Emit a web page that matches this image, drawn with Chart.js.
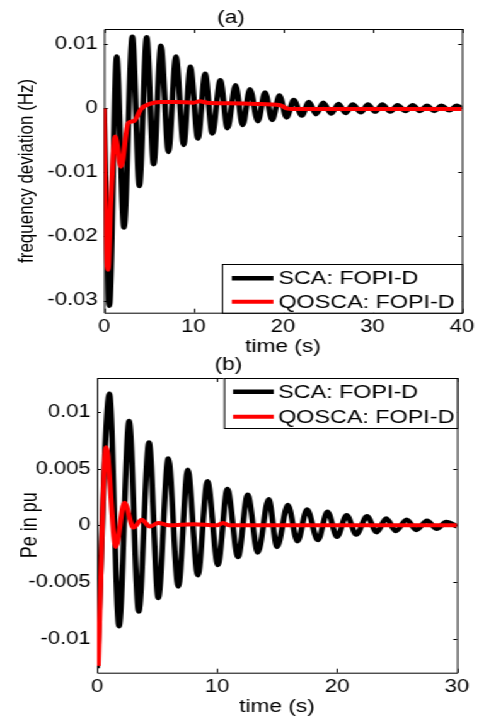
<!DOCTYPE html>
<html>
<head>
<meta charset="utf-8">
<title>SCA vs QOSCA FOPI-D</title>
<script src="https://cdn.jsdelivr.net/npm/chart.js@4.4.0/dist/chart.umd.min.js"></script>
<style>
  html, body { margin: 0; padding: 0; background: #fff; overflow: hidden; }
  /* the source figure is stretched sideways, so the charts are drawn narrow and widened */
  #wrap { position: absolute; left: 0; top: 0; width: 380px; height: 717px;
          transform: scaleX(1.2605); transform-origin: 0 0; }
  #wrap canvas { position: absolute; left: 0; }
</style>
</head>
<body>
<div id="wrap">
  <canvas id="chartA" width="380" height="358" style="top:0"></canvas>
  <canvas id="chartB" width="380" height="361" style="top:356px"></canvas>
</div>
<script>
// legend labels
const seriesLabels = ['SCA: FOPI-D', 'QOSCA: FOPI-D'];

// (a) frequency deviation
const timeTicksA = [0, 10, 20, 30, 40];
const freqTicksA = [-0.03, -0.02, -0.01, 0, 0.01];

const scaTimeA = [0, 0.6, 1.42, 2.23, 3.17, 3.95, 4.77, 5.55, 6.37, 7.2, 8.04, 8.9, 9.65, 10.5,
  11.3, 12.1, 13.0, 13.8, 14.7, 15.5, 16.3, 17.2, 18.0, 18.8, 19.6, 20.4, 21.2, 22.1, 22.9,
  23.7, 24.5, 25.4, 26.2, 27.0, 27.8, 28.7, 29.5, 30.3, 31.1, 32.0, 32.8, 33.7, 34.5, 35.3,
  36.1, 36.9, 37.7, 38.6, 39.4, 40];
const scaFreqA = [0, -0.0308, 0.0081, -0.0186, 0.0112, -0.0121, 0.0111, -0.0087, 0.0098, -0.0068,
  0.0081, -0.0057, 0.0065, -0.0047, 0.0054, -0.0039, 0.0044, -0.0031, 0.0036, -0.0026, 0.0030,
  -0.0020, 0.0025, -0.0018, 0.0020, -0.0014, 0.0013, -0.0011, 0.0010, -0.0009, 0.0009, -0.0008,
  0.0007, -0.0007, 0.0006, -0.0006, 0.0006, -0.0005, 0.0006, -0.0005, 0.0005, -0.0004, 0.0005,
  -0.0004, 0.0004, -0.0004, 0.0004, -0.0003, 0.0004, 0];

const qoscaTimeA = [0, 0.1, 0.25, 0.45, 0.75, 1.25, 1.9, 2.7, 3.3, 4.2, 5.1, 6.3, 8, 10, 10.7,
  11.5, 14, 17, 19.7, 20.4, 21, 25, 30, 40];
const qoscaFreqA = [0, -0.012, -0.022, -0.0252, -0.015, -0.0044, -0.0091, -0.0023, -0.002, 0,
  0.0007, 0.001, 0.001, 0.0009, 0.0011, 0.0009, 0.0008, 0.0007, 0.0005, 0, -0.0001, -0.0001,
  -0.0001, -0.0001];

// (b) electrical power
const timeTicksB = [0, 10, 20, 30];
const peTicksB = [-0.01, -0.005, 0, 0.005, 0.01];

const scaTimeB = [0, 1.03, 1.83, 2.67, 3.47, 4.33, 5.1, 5.94, 6.77, 7.56, 8.4, 9.2, 10.07, 10.86,
  11.75, 12.55, 13.4, 14.3, 15.0, 15.9, 16.7, 17.5, 18.4, 19.2, 20.0, 20.8, 21.6, 22.5, 23.3,
  24.1, 24.9, 25.8, 26.6, 27.5, 28.3, 29.1, 30];
const scaPeB = [-0.0126, 0.0116, -0.0089, 0.0092, -0.0076, 0.0073, -0.0064, 0.0059, -0.0054,
  0.0049, -0.0044, 0.0039, -0.0035, 0.0032, -0.0028, 0.0027, -0.0024, 0.0023, -0.0019, 0.0018,
  -0.0014, 0.0014, -0.0013, 0.0012, -0.0010, 0.0009, -0.0008, 0.0008, -0.0006, 0.0006, -0.0005,
  0.0005, -0.0004, 0.0004, -0.0003, 0.0003, -0.0001];

const qoscaTimeB = [0.1, 0.75, 1.56, 2.28, 3.03, 3.72, 4.4, 5.1, 6, 8, 10, 10.5, 11, 15, 20, 25, 30];
const qoscaPeB = [-0.0124, 0.0069, -0.0019, 0.002, -0.0002, 0.0005, -0.0001, 0.0002, 0, 0.0001,
  0, 0.0002, 0, 0, 0, 0, 0];

const FONT = "'Liberation Sans', Arial, Helvetica, sans-serif";

function points(xs, ys) {
  return xs.map((x, i) => ({ x: x, y: ys[i] }));
}

// matlab style box with inward ticks on all four sides
const matlabBox = {
  id: 'matlabBox',
  beforeDatasetsDraw(chart) {
    const { ctx, chartArea: a, scales: { x, y } } = chart;
    ctx.save();
    ctx.strokeStyle = '#000';
    ctx.lineWidth = 1;
    ctx.beginPath();
    ctx.rect(a.left + 0.5, a.top + 0.5, a.right - a.left, a.bottom - a.top);
    x.ticks.forEach(t => {
      const px = Math.round(x.getPixelForValue(t.value)) + 0.5;
      ctx.moveTo(px, a.bottom); ctx.lineTo(px, a.bottom - 4);
      ctx.moveTo(px, a.top); ctx.lineTo(px, a.top + 4);
    });
    y.ticks.forEach(t => {
      const py = Math.round(y.getPixelForValue(t.value)) + 0.5;
      ctx.moveTo(a.left, py); ctx.lineTo(a.left + 3, py);
      ctx.moveTo(a.right, py); ctx.lineTo(a.right - 3, py);
    });
    ctx.stroke();
    ctx.restore();
  }
};

// boxed legend in a corner of the plot
const cornerLegend = {
  id: 'cornerLegend',
  afterDatasetsDraw(chart, args, o) {
    const { ctx, chartArea: a } = chart;
    const x0 = a.right - o.width;
    const y0 = o.atTop ? a.top : a.bottom - o.height;
    ctx.save();
    ctx.fillStyle = '#fff';
    ctx.fillRect(x0, y0, o.width, o.height);
    ctx.strokeStyle = '#000';
    ctx.lineWidth = 1;
    ctx.strokeRect(x0 + 0.5, y0 + 0.5, o.width, o.height);
    ctx.font = o.fontSize + 'px ' + FONT;
    ctx.textBaseline = 'middle';
    ctx.textAlign = 'left';
    chart.data.datasets.forEach((ds, i) => {
      const cy = y0 + o.rows[i];
      ctx.strokeStyle = ds.borderColor;
      ctx.lineWidth = ds.borderWidth;
      ctx.beginPath();
      ctx.moveTo(x0 + o.lineFrom, cy);
      ctx.lineTo(x0 + o.lineTo, cy);
      ctx.stroke();
      ctx.fillStyle = '#000';
      ctx.fillText(ds.label, x0 + o.textAt, cy + 1);
    });
    ctx.restore();
  }
};

function makeChart(id, cfg) {
  return new Chart(document.getElementById(id), {
    type: 'line',
    data: {
      datasets: [
        {
          label: seriesLabels[0],
          data: points(cfg.scaT, cfg.scaV),
          borderColor: '#000000',
          borderWidth: 4.5,
          pointRadius: 0,
          cubicInterpolationMode: 'monotone',
          order: 1
        },
        {
          label: seriesLabels[1],
          data: points(cfg.qoT, cfg.qoV),
          borderColor: '#ff0000',
          borderWidth: 4,
          pointRadius: 0,
          cubicInterpolationMode: 'monotone',
          order: 0
        }
      ]
    },
    options: {
      responsive: false,
      animation: false,
      events: [],
      layout: { padding: { left: 0, right: cfg.padRight, top: 0, bottom: 0 } },
      scales: {
        x: {
          type: 'linear',
          min: cfg.xTicks[0],
          max: cfg.xTicks[cfg.xTicks.length - 1],
          grid: { display: false, drawTicks: false },
          border: { display: false },
          afterBuildTicks: s => { s.ticks = cfg.xTicks.map(v => ({ value: v })); },
          afterFit: s => { s.height = cfg.xAxisHeight; },
          ticks: {
            autoSkip: false, maxRotation: 0, padding: 3.5, color: '#000',
            font: { family: FONT, size: 17.5, weight: 'normal' },
            callback: v => String(v)
          },
          title: {
            display: true, text: 'time (s)', color: '#000',
            font: { family: FONT, size: 18, weight: 'normal', lineHeight: 1 },
            padding: { top: 0, bottom: cfg.xTitleBottom }
          }
        },
        y: {
          type: 'linear',
          min: cfg.yMin,
          max: cfg.yMax,
          grid: { display: false, drawTicks: false },
          border: { display: false },
          afterBuildTicks: s => { s.ticks = cfg.yTicks.map(v => ({ value: v })); },
          afterFit: s => { s.width = cfg.yAxisWidth; },
          ticks: {
            autoSkip: false, padding: 5, color: '#000',
            font: { family: FONT, size: 17.5, weight: 'normal' },
            callback: v => String(v)
          },
          title: {
            display: true, text: cfg.yTitle, color: '#000',
            font: { family: FONT, size: cfg.yTitleSize, weight: 'normal', lineHeight: 1 },
            padding: { top: cfg.yTitlePad, bottom: 0 }
          }
        }
      },
      plugins: {
        legend: { display: false },
        tooltip: { enabled: false },
        title: {
          display: true, text: cfg.title, color: '#000',
          font: { family: FONT, size: 18, weight: 'normal', lineHeight: 1 },
          padding: cfg.titlePad
        },
        cornerLegend: cfg.legend
      }
    },
    plugins: [matlabBox, cornerLegend]
  });
}

makeChart('chartA', {
  scaT: scaTimeA, scaV: scaFreqA, qoT: qoscaTimeA, qoV: qoscaFreqA,
  xTicks: timeTicksA, yTicks: freqTicksA, yMin: -0.0319, yMax: 0.0124,
  yTitle: 'frequency deviation (Hz)', yTitleSize: 17, yTitlePad: 12.5,
  title: '(a)', titlePad: { top: 9.5, bottom: 1.5 },
  padRight: 13.5, yAxisWidth: 82.5, xAxisHeight: 45.3, xTitleBottom: 1.5,
  legend: { atTop: false, width: 190.5, height: 48.7, rows: [14.3, 37.7],
            lineFrom: 7.9, lineTo: 40.9, textAt: 44.9, fontSize: 18.5 }
});

makeChart('chartB', {
  scaT: scaTimeB, scaV: scaPeB, qoT: qoscaTimeB, qoV: qoscaPeB,
  xTicks: timeTicksB, yTicks: peTicksB, yMin: -0.013, yMax: 0.013,
  yTitle: 'Pe in pu', yTitleSize: 18, yTitlePad: 15,
  title: '(b)', titlePad: { top: 0, bottom: 4 },
  padRight: 17.4, yAxisWidth: 77, xAxisHeight: 44.3, xTitleBottom: 1,
  legend: { atTop: true, width: 185, height: 50, rows: [13.7, 38.7],
            lineFrom: 7.3, lineTo: 39.6, textAt: 43.1, fontSize: 18.5 }
});
</script>
</body>
</html>
